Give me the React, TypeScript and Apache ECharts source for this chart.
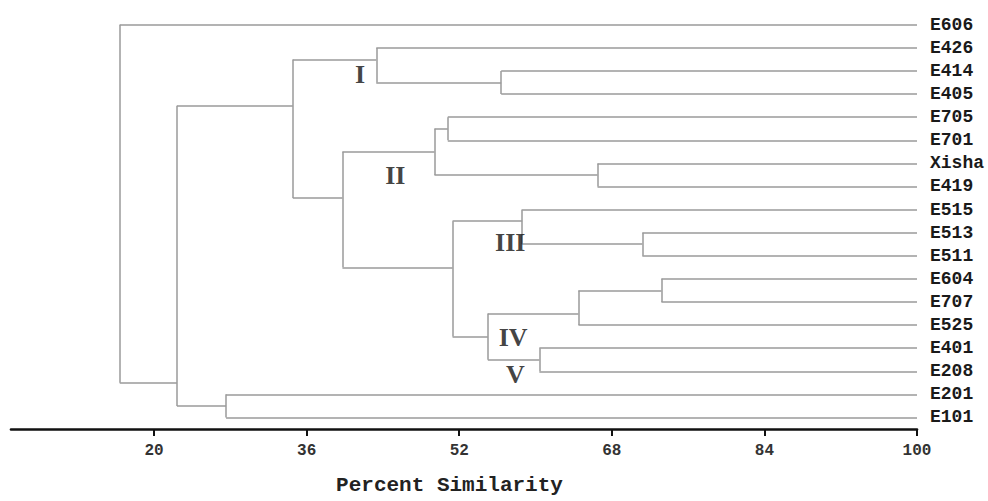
import React, { useEffect, useRef } from "react";
import * as echarts from "echarts";

// Leaves, top to bottom
const leafNames = [
  "E606", "E426", "E414", "E405", "E705", "E701", "Xisha", "E419", "E515",
  "E513", "E511", "E604", "E707", "E525", "E401", "E208", "E201", "E101",
];

// Merge nodes of the dendrogram
const nodeIds = [
  "n414_405", "nI", "n705_701", "nXisha_419", "nII", "n513_511", "nIII",
  "n604_707", "nIV", "nV", "nIV_V", "nIII_V", "nII_V", "nA", "n201_101", "nC", "root",
];
const nodeChildren: [string, string][] = [
  ["E414", "E405"],
  ["E426", "n414_405"],
  ["E705", "E701"],
  ["Xisha", "E419"],
  ["n705_701", "nXisha_419"],
  ["E513", "E511"],
  ["E515", "n513_511"],
  ["E604", "E707"],
  ["n604_707", "E525"],
  ["E401", "E208"],
  ["nIV", "nV"],
  ["nIII", "nIV_V"],
  ["nII", "nIII_V"],
  ["nI", "nII_V"],
  ["E201", "E101"],
  ["nA", "n201_101"],
  ["E606", "nC"],
];
// similarity (%) at which each merge happens
const nodeSimilarity = [
  56.4, 43.3, 50.8, 66.5, 49.4, 71.2, 58.6, 73.2, 64.5, 60.4, 55.0, 51.3, 39.75, 34.55, 27.55, 22.4, 16.4,
];
// row (leaf index units) where each merge node connects to its parent
const nodeRow = [
  2.5, 1.5, 4.5, 6.5, 5.5, 9.5, 8.5, 11.5, 12.5, 14.5, 13.5, 10.5, 7.5, 3.5, 16.5, 15.5, 0,
];

// Group annotations
const groupNames = ["I", "II", "III", "IV", "V"];
const groupSimilarity = [41.6, 45.3, 57.35, 57.65, 57.9];
const groupRow = [2.13, 6.52, 9.42, 13.55, 15.12];

// Axis ticks
const tickValues = [20, 36, 52, 68, 84, 100];
const axisMin = 5;
const axisMax = 100;

function buildSegments() {
  const sim: Record<string, number> = {};
  const row: Record<string, number> = {};
  leafNames.forEach((n, i) => {
    sim[n] = axisMax;
    row[n] = i;
  });
  nodeIds.forEach((id, i) => {
    sim[id] = nodeSimilarity[i];
    row[id] = nodeRow[i];
  });
  const segs: { coords: number[][] }[] = [];
  nodeIds.forEach((id, i) => {
    const [a, b] = nodeChildren[i];
    const x = nodeSimilarity[i];
    segs.push({ coords: [[x, row[a]], [x, row[b]]] });
    segs.push({ coords: [[x, row[a]], [sim[a], row[a]]] });
    segs.push({ coords: [[x, row[b]], [sim[b], row[b]]] });
  });
  return segs;
}

export default function App() {
  const ref = useRef<HTMLDivElement>(null);
  useEffect(() => {
    document.body.style.margin = "0";
    if (!ref.current) return;
    const chart = echarts.init(ref.current, null, { renderer: "svg" });
    const mono = "Liberation Mono";
    chart.setOption({
      animation: false,
      backgroundColor: "#ffffff",
      grid: { left: 11, right: 71, top: 13.26, bottom: 65.5, containLabel: false },
      xAxis: {
        type: "value",
        position: "bottom",
        min: axisMin,
        max: axisMax,
        name: "Percent Similarity",
        nameLocation: "middle",
        nameGap: 46,
        nameTextStyle: {
          fontFamily: mono,
          fontWeight: "bold",
          fontSize: 21,
          color: "#222",
          padding: [0, 29, 0, 0],
        },
        axisLine: { show: true, onZero: false, lineStyle: { color: "#111", width: 2.6 } },
        axisTick: {
          show: true,
          customValues: tickValues,
          length: 7,
          lineStyle: { color: "#111", width: 2 },
        },
        axisLabel: {
          customValues: tickValues,
          margin: 14,
          fontFamily: mono,
          fontWeight: "bold",
          fontSize: 16,
          color: "#333",
        },
        splitLine: { show: false },
      },
      yAxis: {
        type: "value",
        inverse: true,
        min: -0.5,
        max: 17.5,
        position: "right",
        axisLine: { show: false, onZero: false },
        axisTick: { show: false },
        splitLine: { show: false },
        axisLabel: {
          customValues: leafNames.map((_, i) => i),
          formatter: (v: number) => leafNames[Math.round(v)] ?? "",
          margin: 13,
          fontFamily: mono,
          fontWeight: "bold",
          fontSize: 18,
          color: "#1a1a1a",
        },
      },
      series: [
        {
          type: "lines",
          coordinateSystem: "cartesian2d",
          polyline: false,
          silent: true,
          lineStyle: { color: "#9a9a9a", width: 1.5, opacity: 1, curveness: 0 },
          data: buildSegments(),
        },
        {
          type: "scatter",
          silent: true,
          symbolSize: 1,
          itemStyle: { color: "rgba(0,0,0,0)" },
          data: groupNames.map((g, i) => [groupSimilarity[i], groupRow[i], g]),
          label: {
            show: true,
            position: "inside",
            formatter: (p: any) => p.value[2],
            fontFamily: "Liberation Serif",
            fontWeight: "bold",
            fontSize: 26,
            color: "#111",
          },
        },
      ],
    });
    return () => chart.dispose();
  }, []);
  return <div ref={ref} style={{ width: 988, height: 501 }} />;
}
